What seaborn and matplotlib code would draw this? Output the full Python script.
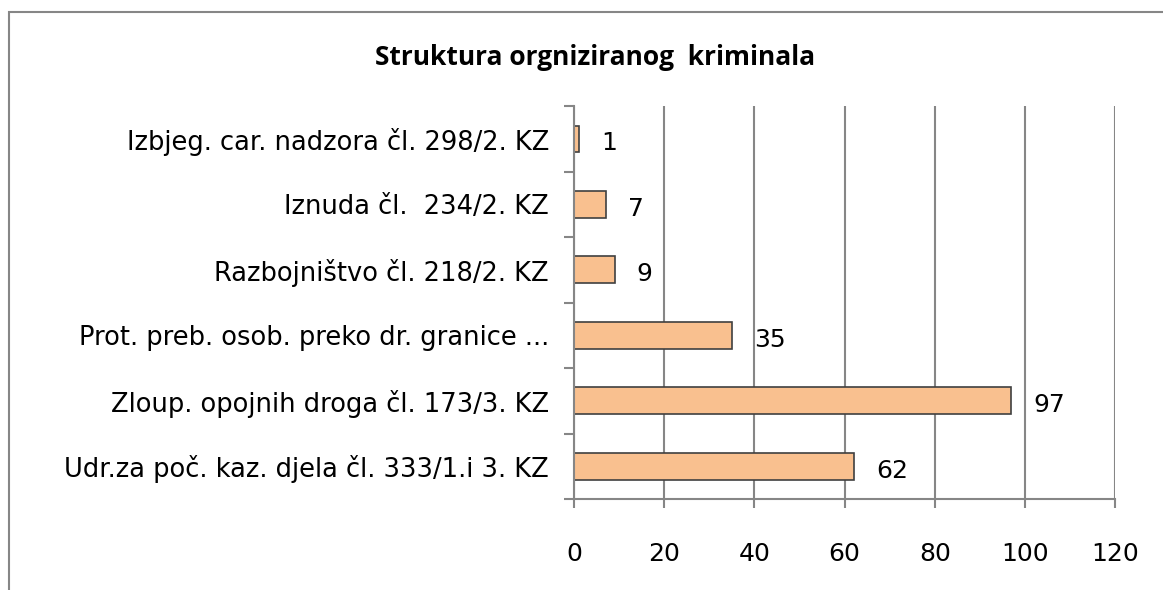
import numpy as np
import pandas as pd
import matplotlib
matplotlib.use('Agg')
import matplotlib.pyplot as plt
from matplotlib.patches import Rectangle
import seaborn as sns

categories = [
    'Izbjeg. car. nadzora čl. 298/2. KZ',
    'Iznuda čl.  234/2. KZ',
    'Razbojništvo čl. 218/2. KZ',
    'Prot. preb. osob. preko dr. granice ...',
    'Zloup. opojnih droga čl. 173/3. KZ',
    'Udr.za poč. kaz. djela čl. 333/1.i 3. KZ',
]
counts = [1, 7, 9, 35, 97, 62]
x_ticks = [0, 20, 40, 60, 80, 100, 120]
title = 'Struktura orgniziranog  kriminala'

df = pd.DataFrame({'kategorija': categories, 'broj': counts})

sns.set_theme(style='white')
plt.rcParams['font.family'] = ['DejaVu Sans']
plt.rcParams['text.color'] = 'black'

fig = plt.figure(figsize=(11.63, 5.9), dpi=100)
ax = fig.add_axes([0.4936, 0.154, 0.4652, 0.666])

sns.barplot(data=df, y='kategorija', x='broj', orient='h', color='#F9C08F',
            edgecolor='#404040', linewidth=1.2, width=0.41, saturation=1, ax=ax)

ax.set_xlim(0, 120)
ax.set_xticks(x_ticks)
ax.set_xticklabels([str(t) for t in x_ticks], fontsize=18)
ax.tick_params(axis='x', length=6.5, width=1.5, color='#868686', labelcolor='black',
               pad=24.5, direction='out', bottom=True)
ax.tick_params(axis='y', which='major', length=0, pad=18, labelsize=18.5, labelcolor='black')
ax.set_yticks(np.arange(-0.5, len(categories), 1.0), minor=True)
ax.tick_params(axis='y', which='minor', length=7, width=1.5, color='#868686', direction='out', left=True)
ax.set_ylim(len(categories) - 0.5, -0.5)
ax.set_xlabel('')
ax.set_ylabel('')

ax.grid(axis='x', color='#868686', linewidth=1.5)
ax.grid(axis='y', visible=False)
ax.set_axisbelow(True)
for side in ['top', 'right']:
    ax.spines[side].set_visible(False)
for side in ['left', 'bottom']:
    ax.spines[side].set_color('#868686')
    ax.spines[side].set_linewidth(1.5)

for i, v in enumerate(counts):
    ax.annotate(str(v), xy=(v, i), xytext=(16, -3), textcoords='offset points',
                ha='left', va='center', fontsize=18, color='black')

fig.text(0.512, 1 - 65 / 590, title, ha='center', va='baseline', fontsize=19,
         fontweight='bold', color='black', family=['Open Sans', 'DejaVu Sans'])

fig.patches.append(Rectangle((9 / 1163, -0.01), 1.2, 1 - 12 / 590 + 0.01, transform=fig.transFigure,
                             fill=False, edgecolor='#868686', linewidth=1.5))

fig.savefig('out.png', dpi=100)
